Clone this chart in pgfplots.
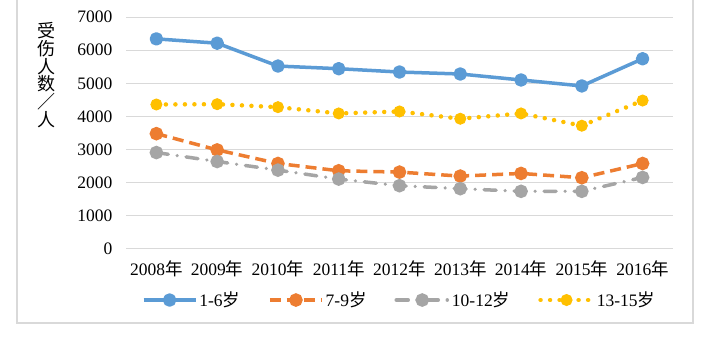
\documentclass[border=0pt]{standalone}
\usepackage{pgfplots}
\pgfplotsset{compat=1.18}
\usepackage{fontspec}
\setmainfont{Liberation Serif}
\newfontfamily\cjk{Noto Sans CJK SC}
\definecolor{cblue}{HTML}{5B9BD5}
\definecolor{corange}{HTML}{ED7D31}
\definecolor{cgray}{HTML}{A5A5A5}
\definecolor{cgold}{HTML}{FFC000}
\definecolor{cgrid}{HTML}{D9D9D9}
\begin{document}
\begin{tikzpicture}
\clip (0,0) rectangle (706bp,355bp);
\fill[white] (0,0) rectangle (706bp,355bp);
\draw[draw=cgrid, line width=1.5bp] (17bp,32bp) rectangle (693bp,400bp);
\node[font=\cjk\fontsize{18bp}{17.8bp}\selectfont, align=center, inner sep=0] at (46bp,280bp) {受\\伤\\人\\数\\／\\人};
\begin{axis}[
  at={(126bp,106bp)}, anchor=south west,
  scale only axis, width=547bp, height=232bp,
  xmin=-0.5, xmax=8.5, ymin=0, ymax=7000,
  xtick={0,...,8},
  xticklabels={2008{\cjk 年},2009{\cjk 年},2010{\cjk 年},2011{\cjk 年},2012{\cjk 年},2013{\cjk 年},2014{\cjk 年},2015{\cjk 年},2016{\cjk 年}},
  ytick={0,1000,...,7000},
  ymajorgrids, grid style={cgrid, line width=1bp},
  axis line style={draw=none}, major tick length=0pt,
  tick label style={font=\fontsize{17.5bp}{18bp}\selectfont},
  xticklabel style={yshift=-8bp},
  yticklabel style={xshift=-10bp},
  /pgf/number format/assume math mode=true,
  /pgf/number format/1000 sep={},
  clip=false,
  legend columns=4,
  legend style={at={(0.5,-0.22)}, anchor=center, draw=none, fill=none,
    font=\fontsize{17.5bp}{18bp}\selectfont,
    /tikz/every even column/.append style={column sep=26bp}},
  legend image code/.code={
    \draw[mark repeat=2,mark phase=2,#1] plot coordinates {(0bp,0bp) (26bp,0bp) (52bp,0bp)};
  },
  every axis plot/.append style={line width=3.5bp, mark=*, mark size=5bp},
]
\addplot[cblue, mark options={solid,fill=cblue,draw=cblue}, line join=round] coordinates {
 (0,6340) (1,6210) (2,5520) (3,5440) (4,5340) (5,5280) (6,5100) (7,4920) (8,5740)};
\addlegendentry{1-6{\cjk 岁}}
\addplot[corange, dash pattern=on 11bp off 6bp, mark options={solid,fill=corange,draw=corange}] coordinates {
 (0,3480) (1,2990) (2,2580) (3,2360) (4,2320) (5,2200) (6,2280) (7,2150) (8,2580)};
\addlegendentry{7-9{\cjk 岁}}
\addplot[cgray, line cap=round, dash pattern=on 12bp off 9bp on 0.01bp off 9bp, mark options={solid,fill=cgray,draw=cgray}] coordinates {
 (0,2910) (1,2640) (2,2380) (3,2110) (4,1910) (5,1820) (6,1740) (7,1740) (8,2160)};
\addlegendentry{10-12{\cjk 岁}}
\addplot[cgold, line width=4.5bp, line cap=round, dash pattern=on 0.01bp off 9.5bp, mark options={solid,fill=cgold,draw=cgold,line width=1bp}, mark size=5.5bp] coordinates {
 (0,4360) (1,4370) (2,4280) (3,4090) (4,4150) (5,3930) (6,4090) (7,3720) (8,4480)};
\addlegendentry{13-15{\cjk 岁}}
\end{axis}
\end{tikzpicture}
\end{document}
